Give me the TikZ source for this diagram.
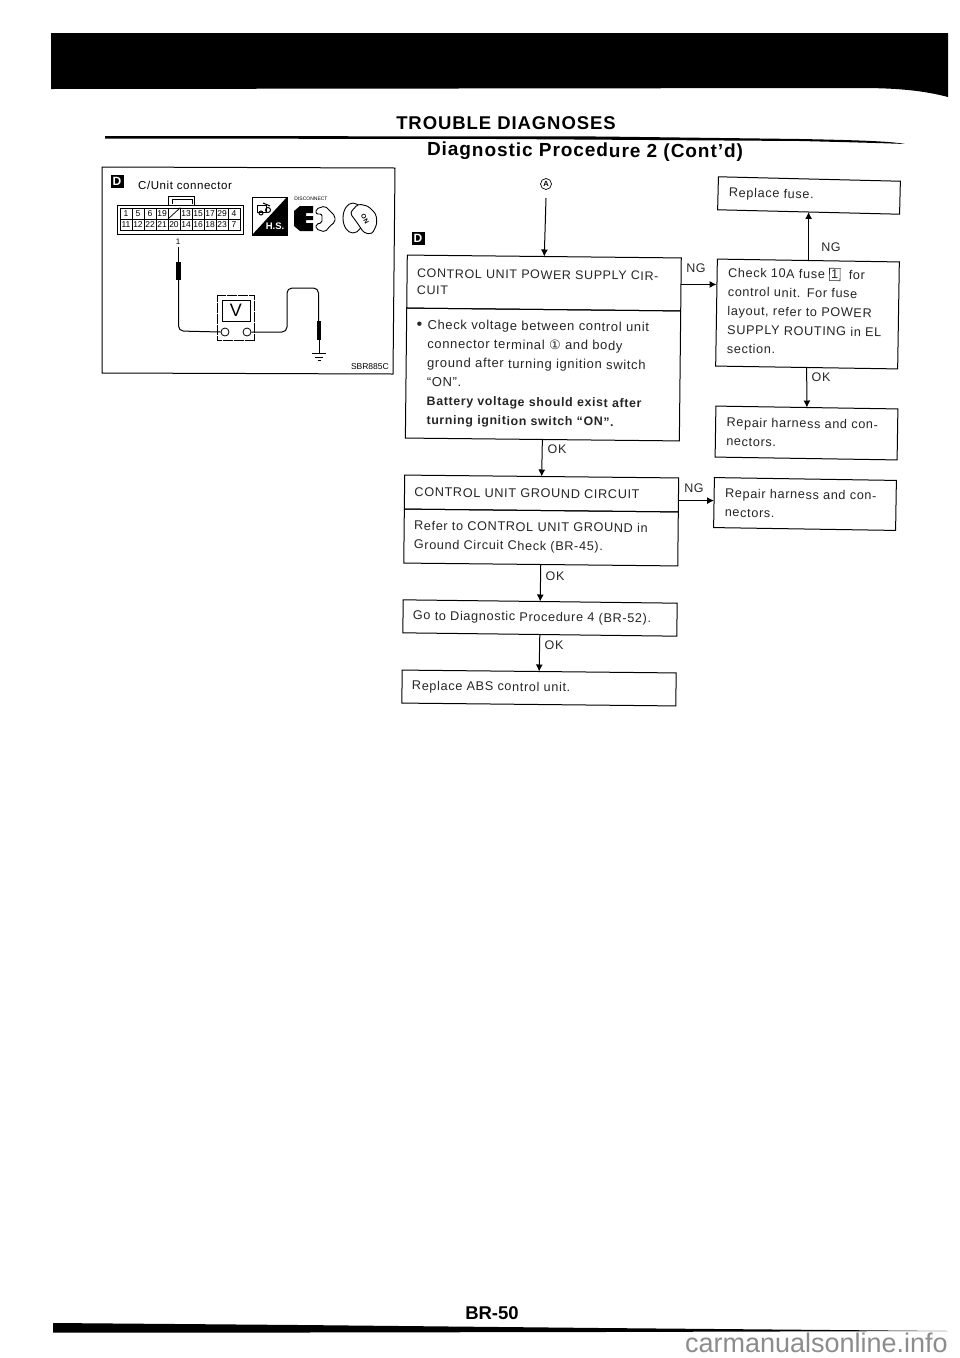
\documentclass[tikz,border=0pt]{standalone}
\usepackage{fontspec}
\setmainfont{Liberation Sans}[LetterSpace=5]
\newfontfamily\plainsans{Liberation Sans}
\newfontfamily\dejavu{DejaVu Sans}
\usetikzlibrary{arrows.meta}
\newcommand{\circledone}{{\dejavu\fontsize{13}{13}\selectfont ①}}
\newcommand{\bodybullet}{\makebox[11pt][l]{\raisebox{-0.5pt}{\fontsize{16}{16}\selectfont\textbullet}}}
\tikzset{
 inkline/.style={line width=1pt,draw=black},
 flowbox/.style={inkline,rectangle,minimum height=#1,inner sep=0pt,outer sep=0pt,anchor=center,align=left,font=\fontsize{12.7}{19}\selectfont,text=black!85},
 wd274/.style={text width=254pt,minimum width=274pt,inner xsep=10pt},
 wd182/.style={text width=160pt,minimum width=182pt,inner xsep=11pt},
 flowlabel/.style={font=\fontsize{12.5}{14}\selectfont,inner sep=0pt,text=black!85},
 flowarrow/.style={line width=1pt,-{Latex[length=7pt,width=7pt]}},
 cellbox/.style={draw,line width=0.7pt,minimum width=12pt,minimum height=11pt,inner sep=0pt,font=\fontsize{8.5}{8.5}\selectfont\plainsans},
 badge/.style={fill=black,text=white,minimum width=13pt,minimum height=13pt,inner sep=0pt,font=\fontsize{12}{12}\selectfont\bfseries\plainsans},
 wire/.style={line width=1pt,rounded corners=5pt},
 probe/.style={line width=4.5pt},
}
\begin{document}
\begin{tikzpicture}[x=1pt,y=-1pt]
\useasboundingbox (0,0) rectangle (960,1358);
\fill[white] (0,0) rectangle (960,1358);
% banner and rules
\fill[black] (51,33) -- (948,33) -- (948,97) .. controls (925,91) and (900,88) .. (860,88) -- (51,89) -- cycle;
\fill[black] (105,136) -- (600,136.5) -- (800,139) .. controls (850,140) and (890,141) .. (905,144) .. controls (880,143) and (840,142) .. (800,141) -- (500,139) -- (105,138.5) -- cycle;
\fill[black] (53,1323) -- (300,1325) -- (600,1328) -- (948,1331) -- (600,1332) -- (300,1332.5) -- (53,1332.5) -- cycle;
\node[inner sep=0pt,font=\fontsize{18.5}{19}\selectfont\bfseries] (maintitle) at (506,123) {TROUBLE DIAGNOSES};
\node[inner sep=0pt,rotate=-0.4,font=\fontsize{19}{19}\selectfont\bfseries] (subtitle) at (585,152) {Diagnostic Procedure 2 (Cont'd)};
\node[inner sep=0pt,font=\fontsize{18.5}{19}\selectfont\bfseries\plainsans] (pageno) at (492,1313) {BR-50};
\node[inner sep=0pt,anchor=east,text=black!45,font=\fontsize{27}{27}\selectfont\plainsans] (watermark) at (948,1343) {carmanualsonline.info};

% left panel
\draw[inkline] (102,167) -- (395,168) -- (393,374) -- (102,373) -- cycle;
\node[badge] (badgeA) at (117,181) {D};
\node[anchor=west,inner sep=0pt,font=\fontsize{11.5}{12}\selectfont] (cunit) at (138,185) {C/Unit connector};
\draw[line width=1pt] (117,205) rectangle (243,234);
\draw[line width=1pt] (168,205) -- (168,196) -- (194,196) -- (194,205);
\draw[line width=0.8pt] (172,204) -- (172,199) -- (192,199) -- (192,204);
\foreach \lab [count=\i from 0] in {1,5,6,19,,13,15,17,29,4}{
  \node[cellbox] (top\i) at ({126+12*\i},213.5) {\lab};
}
\draw[line width=0.7pt] (top4.south west) -- (top4.north east);
\foreach \lab [count=\i from 0] in {11,12,22,21,20,14,16,18,23,7}{
  \node[cellbox] (bot\i) at ({126+12*\i},224.5) {\lab};
}
% H.S. icon
\draw[line width=0.9pt] (252,197) rectangle (287,235);
\fill[black] (287,197) -- (287,235) -- (252,235) -- cycle;
\node[inner sep=0pt,text=white,font=\fontsize{9.5}{10}\selectfont\bfseries\plainsans] (hs) at (275,226) {H.S.};
\draw[line width=1pt] (257,205) rectangle (266,212);
\draw[line width=1pt] (261,213) circle (2) (268,210) circle (2.5) (263,203) -- (270,206);
% disconnect icon
\node[inner sep=0pt,font=\fontsize{5}{5}\selectfont\plainsans] (disc) at (311,199) {DISCONNECT};
\fill[black] (294,211) -- (300,206) -- (313,206) -- (313,213) -- (306,213) -- (306,216) -- (313,216) -- (313,220) -- (306,220) -- (306,223) -- (313,223) -- (313,231) -- (300,231) -- (294,226) -- cycle;
\draw[line width=0.9pt,rounded corners=2pt] (316,209) -- (325,206) -- (330,211) -- (335,216) -- (335,222) -- (330,226) -- (325,232) -- (316,229) -- (316,224) -- (322,223) -- (322,214) -- (316,214) -- cycle;
% key icon
\draw[line width=0.9pt] (353,218) ellipse (10 and 15);
\draw[line width=0.9pt,fill=white,rounded corners=3pt] (350,213) -- (358,204) -- (368,206) -- (376,214) -- (377,224) -- (372,234) -- (364,233) -- (358,224) -- cycle;
\node[inner sep=0pt,rotate=-60,font=\fontsize{6.5}{7}\selectfont\bfseries\plainsans] (keyon) at (365,219) {ON};
% meter
\node[inner sep=0pt,font=\fontsize{8}{8}\selectfont\plainsans] (pinone) at (178,242) {1};
\node[draw,line width=0.8pt,dashed,dash pattern=on 5pt off 0.5pt,minimum width=37pt,minimum height=45pt,inner sep=0pt] (meter) at (235.5,317.5) {};
\node[draw,line width=0.9pt,minimum width=28pt,minimum height=21pt,inner sep=0pt,font=\fontsize{18}{18}\selectfont\plainsans] (screen) at (236,310.5) {V};
\node[draw,circle,line width=0.8pt,minimum size=8pt,inner sep=0pt] (plus) at (225,332) {};
\node[draw,circle,line width=0.8pt,minimum size=8pt,inner sep=0pt] (minus) at (247,332) {};
\coordinate (probeTop) at (178.5,247);
\draw[line width=1pt] (probeTop) -- (178.5,262);
\draw[probe] (178.5,262) -- (178.5,280);
\draw[wire] (178.5,280) -- (178.5,331) -- (plus.west);
\draw[wire] (minus.east) -- (287,332) -- (287,288) -- (318.5,288) -- (318.5,321);
\draw[probe] (319,321) -- (319,340);
\draw[line width=1pt] (319,340) -- (319,353);
\draw[line width=1pt] (312,353) -- (326,353) (315,357) -- (323,357) (317.5,360) -- (320.5,360);
\node[inner sep=0pt,anchor=east,font=\fontsize{8.5}{9}\selectfont\plainsans] (sbr) at (389,367) {SBR885C};

% flow chart
\node[draw,circle,line width=0.7pt,minimum size=11pt,inner sep=0pt,font=\fontsize{7.5}{8}\selectfont\bfseries\plainsans] (circA) at (546,184) {A};
\coordinate (startA) at (546,198);
\node[badge] (badgeB) at (418,238) {D};

\node[flowbox=53pt,wd274,rotate=-0.6,font=\fontsize{12.5}{16.5}\selectfont] (c1t) at (544,283) {CONTROL UNIT POWER SUPPLY CIR-\\CUIT};
\node[flowbox=130pt,wd274,rotate=-0.6,anchor=north,font=\fontsize{13}{19}\selectfont] (c1b) at (c1t.south) {\bodybullet Check voltage between control unit\\
\hspace*{11pt}connector terminal \circledone\ and body\\
\hspace*{11pt}ground after turning ignition switch\\
\hspace*{11pt}``ON''.\\
\hspace*{11pt}{\fontsize{12.4}{19}\selectfont\textbf{Battery voltage should exist after}}\\
\hspace*{11pt}{\fontsize{12.4}{19}\selectfont\textbf{turning ignition switch ``ON''.}}};

\node[flowbox=34pt,wd274,rotate=-0.6] (c2t) at (541.5,493.5) {CONTROL UNIT GROUND CIRCUIT};
\node[flowbox=54pt,wd274,rotate=-0.6,anchor=north] (c2b) at (c2t.south) {Refer to CONTROL UNIT GROUND in\\Ground Circuit Check (BR-45).};
\node[flowbox=33pt,wd274,rotate=-0.7] (go) at (540,618) {Go to Diagnostic Procedure 4 (BR-52).};
\node[flowbox=33pt,wd274,rotate=-0.6] (abs) at (539,688) {Replace ABS control unit.};

\node[flowbox=33pt,wd182,rotate=-1.4] (fuse) at (809,195.5) {Replace fuse.};
\node[flowbox=107pt,wd182,rotate=-0.9] (chk) at (807.5,314) {Check 10A fuse {\setlength{\fboxsep}{1.5pt}\setlength{\fboxrule}{0.6pt}\fbox{1}}\ \ for\\control unit. For fuse\\layout, refer to POWER\\SUPPLY ROUTING in EL\\section.\\[-13pt]\mbox{}};
\node[flowbox=51pt,wd182,rotate=-0.9] (rep1) at (806.5,433) {Repair harness and con-\\nectors.};
\node[flowbox=50pt,wd182,rotate=-0.9] (rep2) at (805,504) {Repair harness and con-\\nectors.};

\draw[flowarrow] (startA) -- (c1t.north);
\draw[flowarrow] (c1b.south) -- (c2t.north);
\draw[flowarrow] (c2b.south) -- (go.north);
\draw[flowarrow] (go.south) -- (abs.north);
\draw[flowarrow] (c1t.east) -- (c1t.east -| chk.west);
\draw[flowarrow] ([yshift=2pt]rep2.west -| c2t.east) -- ([yshift=2pt]rep2.west);
\draw[flowarrow] (fuse.south |- chk.north) -- (fuse.south);
\draw[flowarrow] (chk.south) -- (rep1.north);

\node[flowlabel] (ng1) at (696,268) {NG};
\node[flowlabel] (ng2) at (831,247) {NG};
\node[flowlabel] (ok1) at (821,377) {OK};
\node[flowlabel] (ng3) at (694,488) {NG};
\node[flowlabel] (ok2) at (557,449) {OK};
\node[flowlabel] (ok3) at (555,576) {OK};
\node[flowlabel] (ok4) at (554,645) {OK};
\end{tikzpicture}
\end{document}
